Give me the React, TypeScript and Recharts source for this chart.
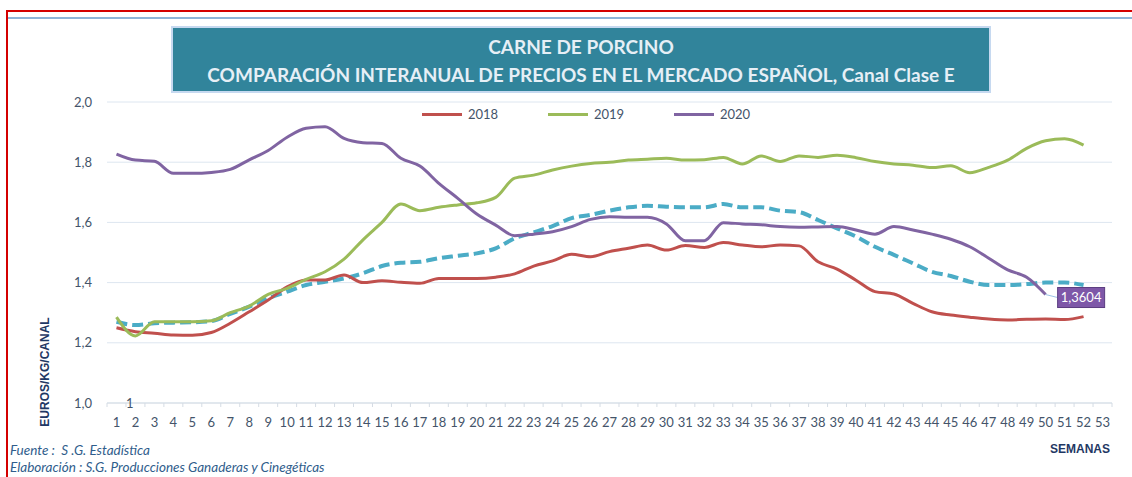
import React from 'react';
import { LineChart, Line, XAxis, YAxis, CartesianGrid, Legend, LabelList } from 'recharts';

const semanas = [
  1, 2, 3, 4, 5, 6, 7, 8, 9, 10, 11, 12, 13, 14, 15, 16, 17, 18, 19, 20, 21, 22, 23, 24, 25, 26,
  27, 28, 29, 30, 31, 32, 33, 34, 35, 36, 37, 38, 39, 40, 41, 42, 43, 44, 45, 46, 47, 48, 49, 50,
  51, 52, 53,
];

const precios2018 = [
  1.25, 1.237, 1.232, 1.226, 1.225, 1.234, 1.265, 1.303, 1.342, 1.386, 1.409, 1.409, 1.425, 1.4,
  1.406, 1.401, 1.398, 1.414, 1.414, 1.414, 1.418, 1.429, 1.455, 1.472, 1.494, 1.486, 1.503, 1.514,
  1.525, 1.508, 1.523, 1.517, 1.533, 1.525, 1.519, 1.525, 1.522, 1.469, 1.445, 1.408, 1.37, 1.362,
  1.331, 1.303, 1.292, 1.285, 1.279, 1.276, 1.278, 1.279, 1.277, 1.287, null,
];

const precios2019 = [
  1.285, 1.223, 1.27, 1.27, 1.27, 1.273, 1.3, 1.322, 1.361, 1.381, 1.411, 1.436, 1.478, 1.542,
  1.6, 1.661, 1.639, 1.65, 1.658, 1.665, 1.683, 1.747, 1.757, 1.774, 1.787, 1.796, 1.8, 1.807,
  1.81, 1.813, 1.807, 1.808, 1.816, 1.794, 1.821, 1.802, 1.821, 1.816, 1.823, 1.815, 1.802, 1.794,
  1.79, 1.782, 1.788, 1.765, 1.783, 1.807, 1.846, 1.871, 1.878, 1.857, null,
];

const precios2020 = [
  1.827, 1.807, 1.803, 1.763, 1.763, 1.766, 1.776, 1.808, 1.839, 1.883, 1.913, 1.918, 1.879, 1.865,
  1.862, 1.813, 1.787, 1.73, 1.68, 1.628, 1.591, 1.556, 1.561, 1.569, 1.586, 1.61, 1.619, 1.617,
  1.617, 1.595, 1.539, 1.539, 1.599, 1.595, 1.592, 1.586, 1.584, 1.585, 1.586, 1.575, 1.561, 1.586,
  1.575, 1.561, 1.544, 1.519, 1.481, 1.442, 1.418, 1.3604, null, null, null,
];

// linea discontinua (sin entrada en la leyenda)
const preciosMedia = [
  1.27, 1.259, 1.265, 1.267, 1.268, 1.272, 1.296, 1.32, 1.348, 1.37, 1.392, 1.403, 1.414, 1.431,
  1.455, 1.466, 1.469, 1.481, 1.489, 1.497, 1.514, 1.547, 1.567, 1.588, 1.614, 1.625, 1.639, 1.65,
  1.655, 1.652, 1.65, 1.65, 1.661, 1.65, 1.65, 1.639, 1.634, 1.608, 1.58, 1.553, 1.519, 1.492,
  1.464, 1.436, 1.422, 1.403, 1.392, 1.392, 1.395, 1.4, 1.4, 1.392, null,
];

const yTicks = [1, 1.2, 1.4, 1.6, 1.8, 2];

const data = semanas.map((semana, i) => ({
  semana,
  s2018: precios2018[i],
  s2019: precios2019[i],
  s2020: precios2020[i],
  media: preciosMedia[i],
}));

const TEXT = '#44546a';
const NAVY = '#1f3864';
const FONT = 'Lato, "Open Sans", sans-serif';
const HALF_BAND = 1005 / 53 / 2;
const ULTIMA = precios2020.filter((v) => v !== null).length - 1;

function TickSemana(props: any) {
  const { x, y, payload, index } = props;
  return (
    <g>
      <line x1={x - HALF_BAND} y1={y} x2={x - HALF_BAND} y2={y + 4} stroke="#d5dce4" />
      {index === semanas.length - 1 && (
        <line x1={x + HALF_BAND} y1={y} x2={x + HALF_BAND} y2={y + 4} stroke="#d5dce4" />
      )}
      <text x={x} y={y + 19} dy="0.35em" textAnchor="middle" fill={TEXT} fontSize={13} fontFamily={FONT}>
        {payload.value}
      </text>
    </g>
  );
}

function EtiquetaFinal(props: any) {
  const { x, y, index, value } = props;
  if (index !== ULTIMA || value == null) return null;
  const txt = String(value).replace('.', ',');
  return (
    <g>
      <line x1={x} y1={y} x2={x + 12} y2={y + 3} stroke="#9dc3e6" strokeWidth={1} />
      <rect x={x + 12} y={y - 7} width={47} height={20} fill="#7e57a8" stroke="#5b3d80" strokeWidth={1} />
      <text x={x + 35.5} y={y + 3} dy="0.35em" textAnchor="middle" fill="#fff" fontSize={13} fontFamily={FONT}>
        {txt}
      </text>
    </g>
  );
}

function Leyenda(props: any) {
  const { payload } = props;
  const items = (payload || []).filter((e: any) => e.type !== 'none' && e.value !== 'media');
  return (
    <div style={{ display: 'flex', fontFamily: FONT, fontSize: 13, color: TEXT }}>
      {items.map((e: any) => (
        <div key={e.value} style={{ width: 126, display: 'flex', alignItems: 'center' }}>
          <span style={{ width: 40, height: 3, background: e.color, marginRight: 6 }} />
          <span>{e.value}</span>
        </div>
      ))}
    </div>
  );
}

export default function App() {
  return (
    <div
      style={{
        position: 'absolute',
        left: 0,
        top: 0,
        width: 1132,
        height: 477,
        overflow: 'hidden',
        background: '#fff',
        fontFamily: FONT,
      }}
    >
      <div style={{ position: 'absolute', left: 6, top: 10, width: 1300, height: 700, border: '2px solid #d40000' }} />
      <div style={{ position: 'absolute', left: 8, top: 17, width: 1124, height: 2, background: '#8eb4d8' }} />

      <div
        style={{
          position: 'absolute',
          left: 171,
          top: 26,
          width: 816,
          height: 58,
          background: '#31849b',
          border: '2px solid #c6d9f0',
          color: '#e6eff6',
          textAlign: 'center',
          fontWeight: 700,
          fontSize: 19,
          lineHeight: '28px',
          paddingTop: 5,
          boxSizing: 'content-box',
        }}
      >
        <div>CARNE DE PORCINO</div>
        <div>COMPARACIÓN INTERANUAL DE PRECIOS EN EL MERCADO ESPAÑOL, Canal Clase E</div>
      </div>

      <div style={{ position: 'absolute', left: 0, top: 0 }}>
        <LineChart width={1132} height={477} data={data} margin={{ top: 102, right: 20, bottom: 44, left: 47 }}>
          <CartesianGrid vertical={false} stroke="#dde6f0" />
          <XAxis
            dataKey="semana"
            interval={0}
            padding={{ left: HALF_BAND, right: HALF_BAND }}
            height={30}
            stroke="#d5dce4"
            tickLine={false}
            tickSize={0}
            tickMargin={0}
            tick={<TickSemana />}
          />
          <YAxis
            domain={[1, 2]}
            ticks={yTicks}
            width={60}
            axisLine={false}
            tickLine={false}
            tickSize={0}
            tickMargin={15}
            tick={{ fill: TEXT, fontSize: 13, fontFamily: FONT }}
            tickFormatter={(v: number) => v.toFixed(1).replace('.', ',')}
          />
          <Legend
            verticalAlign="middle"
            align="center"
            wrapperStyle={{ top: 106, left: 422, width: 400 }}
            content={<Leyenda />}
          />
          <Line
            dataKey="media"
            name="media"
            legendType="none"
            type="monotone"
            stroke="#4bacc6"
            strokeWidth={4}
            strokeDasharray="11 5"
            dot={false}
            isAnimationActive={false}
          />
          <Line dataKey="s2018" name="2018" type="monotone" stroke="#c0504d" strokeWidth={3} dot={false} isAnimationActive={false} />
          <Line dataKey="s2019" name="2019" type="monotone" stroke="#9bbb59" strokeWidth={3} dot={false} isAnimationActive={false} />
          <Line dataKey="s2020" name="2020" type="monotone" stroke="#8064a2" strokeWidth={3} dot={false} isAnimationActive={false}>
            <LabelList dataKey="s2020" content={<EtiquetaFinal />} />
          </Line>
        </LineChart>
      </div>

      <div style={{ position: 'absolute', left: 126, top: 395, fontSize: 13, color: TEXT }}>1</div>

      <div
        style={{
          position: 'absolute',
          left: 45,
          top: 372,
          transform: 'translate(-50%, -50%) rotate(-90deg)',
          fontFamily: '"Liberation Sans", Arial, sans-serif',
          fontWeight: 700,
          fontSize: 12,
          color: NAVY,
          whiteSpace: 'nowrap',
        }}
      >
        EUROS/KG/CANAL
      </div>
      <div
        style={{
          position: 'absolute',
          right: 22,
          top: 442,
          fontFamily: '"Liberation Sans", Arial, sans-serif',
          fontWeight: 700,
          fontSize: 12,
          color: NAVY,
        }}
      >
        SEMANAS
      </div>
      <div style={{ position: 'absolute', left: 10, top: 442, fontStyle: 'italic', fontSize: 13.5, color: '#2f5d8c', lineHeight: '17px' }}>
        <div>Fuente :&nbsp; S .G. Estadística</div>
        <div>Elaboración : S.G. Producciones Ganaderas y Cinegéticas</div>
      </div>
    </div>
  );
}
